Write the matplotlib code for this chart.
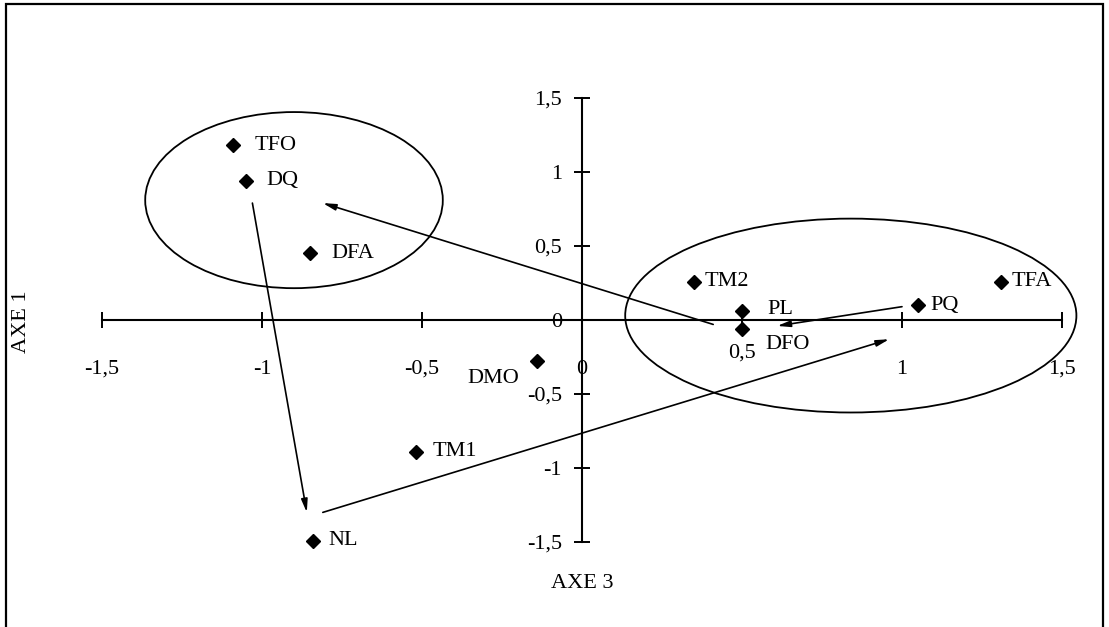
import matplotlib

matplotlib.use("Agg")
import matplotlib.pyplot as plt
from matplotlib.patches import Ellipse, Rectangle
from matplotlib.transforms import ScaledTranslation

plt.rcParams["font.family"] = ["Liberation Serif", "DejaVu Serif"]
plt.rcParams["font.size"] = 16

# ---- data (AXE 3 on x, AXE 1 on y) ---------------------------------------
labels = ["TFO", "DQ", "DFA", "TM2", "PL", "DFO", "PQ", "TFA", "DMO", "TM1", "NL"]
axe3 = [-1.09, -1.05, -0.85, 0.35, 0.50, 0.50, 1.05, 1.31, -0.14, -0.52, -0.84]
axe1 = [1.18, 0.94, 0.45, 0.26, 0.06, -0.06, 0.10, 0.26, -0.28, -0.89, -1.49]

# trajectory arrows: (start x, start y) -> (end x, end y)
arrow_start_x = [0.41, -1.03, -0.81, 1.00]
arrow_start_y = [-0.03, 0.79, -1.30, 0.09]
arrow_end_x = [-0.81, -0.86, 0.96, 0.61]
arrow_end_y = [0.79, -1.30, -0.13, -0.04]

# groups: centre x, centre y, width, height
group_cx = [-0.90, 0.84]
group_cy = [0.81, 0.03]
group_w = [0.93, 1.41]
group_h = [1.19, 1.31]

ticks = [-1.5, -1, -0.5, 0, 0.5, 1, 1.5]
tick_labels = ["-1,5", "-1", "-0,5", "0", "0,5", "1", "1,5"]

# label offsets in pixels (dx, dy, ha)
label_pos = {
    "TFO": (21, 0, "left"), "DQ": (20, 0, "left"), "DFA": (21, 0, "left"),
    "TM2": (11, 0, "left"), "PL": (25, 2, "left"), "DFO": (23, -16, "left"),
    "PQ": (12, 0, "left"), "TFA": (10, 0, "left"), "DMO": (-18, -17, "right"),
    "TM1": (17, 0, "left"), "NL": (15, 0, "left"),
}

fig = plt.figure(figsize=(11.09, 6.27), dpi=100)
ax = fig.add_axes([0, 0, 1, 1])
ax.set_xlim(-582 / 320, (1109 - 582) / 320)
ax.set_ylim((320 - 627) / 148, 320 / 148)

for s in ("top", "right"):
    ax.spines[s].set_visible(False)
for s in ("left", "bottom"):
    ax.spines[s].set_position(("data", 0))
    ax.spines[s].set_bounds(-1.5, 1.5)
    ax.spines[s].set_linewidth(1.5)
ax.patch.set_visible(False)

ax.set_xticks(ticks)
ax.set_xticklabels(tick_labels)
ax.set_yticks(ticks)
ax.set_yticklabels(tick_labels)
ax.tick_params(axis="both", direction="inout", length=11.5, width=1.4, labelsize=16)
ax.tick_params(axis="x", pad=23)
ax.tick_params(axis="y", pad=8.6)
# the "0,5" label on AXE 3 sits a little higher in the original
for lab in ax.get_xticklabels():
    if lab.get_text() == "0,5":
        lab.set_transform(lab.get_transform() + ScaledTranslation(0, 0.16, fig.dpi_scale_trans))

# groups
for cx, cy, w, h in zip(group_cx, group_cy, group_w, group_h):
    ax.add_patch(Ellipse((cx, cy), w, h, fill=False, ec="black", lw=1.3, zorder=2))

# arrows
for x0, y0, x1, y1 in zip(arrow_start_x, arrow_start_y, arrow_end_x, arrow_end_y):
    ax.annotate(
        "", xy=(x1, y1), xytext=(x0, y0),
        arrowprops=dict(arrowstyle="-|>,head_length=0.7,head_width=0.17", lw=1.2,
                        color="black", shrinkA=0, shrinkB=0, mutation_scale=11),
        zorder=3,
    )

# points
ax.plot(axe3, axe1, ls="none", marker="D", ms=6.8, color="black", zorder=4)
for name, x, y in zip(labels, axe3, axe1):
    dx, dy, ha = label_pos[name]
    ax.annotate(name, (x, y), xytext=(dx, dy), textcoords="offset pixels",
                ha=ha, va="center", fontsize=16, zorder=5)

fig.text(22 / 1109, 1 - 322 / 627, "AXE 1", rotation=90, ha="center", va="center", fontsize=16)
fig.text(582 / 1109, 1 - 583 / 627, "AXE 3", ha="center", va="center", fontsize=16)

# scanned frame: left, top and right edges (bottom is cut off)
fig.add_artist(Rectangle((6 / 1109, -0.05), 1097 / 1109, 1.05 - 4 / 627, transform=fig.transFigure,
                         fill=False, ec="black", lw=1.6))

fig.savefig("out.png", dpi=100, facecolor="white")
